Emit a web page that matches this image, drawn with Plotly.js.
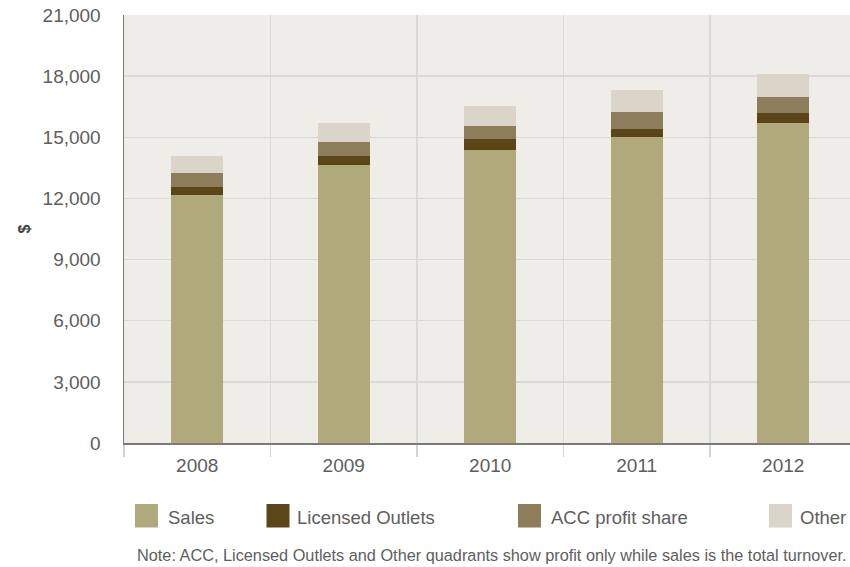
<!DOCTYPE html>
<html>
<head>
<meta charset="utf-8">
<script src="https://cdn.plot.ly/plotly-3.0.1.min.js"></script>
<style>html,body{margin:0;padding:0;background:#fff;}#chart{width:850px;height:567px;}</style>
</head>
<body>
<div id="chart"></div>
<script>
// ---- data ----
const years = ["2008", "2009", "2010", "2011", "2012"];
const sales = [12170, 13640, 14380, 15020, 15700];
const licensedOutlets = [390, 440, 540, 390, 490];
const accProfitShare = [690, 690, 640, 830, 790];
const other = [830, 930, 980, 1080, 1130];
const yTickVals = [0, 3000, 6000, 9000, 12000, 15000, 18000, 21000];
const yTickText = ["0", "3,000", "6,000", "9,000", "12,000", "15,000", "18,000", "21,000"];
const seriesNames = ["Sales", "Licensed Outlets", "ACC profit share", "Other"];
const noteText = "Note: ACC, Licensed Outlets and Other quadrants show profit only while sales is the total turnover.";

// ---- styling ----
const colors = ["#b0a97b", "#5b4619", "#8d7d5b", "#dbd5c9"];
const W = 850, H = 567;
const M = {l: 124, r: 0, t: 15, b: 124};
const pw = W - M.l - M.r, ph = H - M.t - M.b;
const px = x => (x - M.l) / pw;
const py = y => (H - M.b - y) / ph;

const seriesData = [sales, licensedOutlets, accProfitShare, other];
const traces = seriesData.map((vals, i) => ({
  type: "bar",
  x: years,
  y: vals,
  name: seriesNames[i],
  marker: {color: colors[i], line: {width: 0}},
  width: 0.355,
  hoverinfo: "x+y+name"
}));

// legend drawn as squares + text
const legendSquareX = [135, 266.5, 518, 769];
const legendTextX = [166, 295, 549, 798];
const shapes = [];
const annotations = [];
seriesNames.forEach((n, i) => {
  shapes.push({type: "rect", xref: "paper", yref: "paper",
    x0: px(legendSquareX[i]), x1: px(legendSquareX[i] + 23),
    y0: py(504), y1: py(527.5),
    fillcolor: colors[i], line: {width: 0}});
  annotations.push({xref: "paper", yref: "paper", x: px(legendTextX[i]), y: py(517),
    xanchor: "left", yanchor: "middle", showarrow: false, text: n,
    font: {family: "Liberation Sans, Arial, sans-serif", size: 18.5, color: "#5e5e5e"}});
});
annotations.push({xref: "paper", yref: "paper", x: px(135), y: py(555),
  xanchor: "left", yanchor: "middle", showarrow: false, text: noteText,
  font: {family: "Liberation Sans, Arial, sans-serif", size: 16.3, color: "#5e5e5e"}});

const layout = {
  width: W, height: H,
  margin: M,
  barmode: "stack",
  showlegend: false,
  paper_bgcolor: "#ffffff",
  plot_bgcolor: "#efede7",
  font: {family: "Liberation Sans, Arial, sans-serif", color: "#5e5e5e"},
  xaxis: {
    type: "category",
    range: [-0.5, 4.456],
    tickson: "boundaries",
    ticks: "outside", ticklen: 12, tickcolor: "#d4d4d4", tickwidth: 1.5,
    showgrid: true, gridcolor: "#d9d9d9", gridwidth: 1.5,
    showline: true, linecolor: "#7a7a7a", linewidth: 1.5,
    tickfont: {size: 19, color: "#5e5e5e"},
    ticklabelstandoff: 5,
    fixedrange: true
  },
  yaxis: {
    range: [0, 21000],
    tickvals: yTickVals, ticktext: yTickText,
    showgrid: true, gridcolor: "#d9d9d9", gridwidth: 1.5,
    zeroline: false,
    showline: true, linecolor: "#7a7a7a", linewidth: 1.5,
    ticks: "", ticklabelstandoff: 18,
    tickfont: {size: 19, color: "#5e5e5e"},
    title: {text: "$", standoff: 8, font: {size: 16, color: "#444", family: "Liberation Sans, Arial, sans-serif", weight: "bold"}},
    automargin: false,
    fixedrange: true
  },
  shapes: shapes,
  annotations: annotations
};

Plotly.newPlot("chart", traces, layout, {displayModeBar: false, staticPlot: true});
</script>
</body>
</html>
